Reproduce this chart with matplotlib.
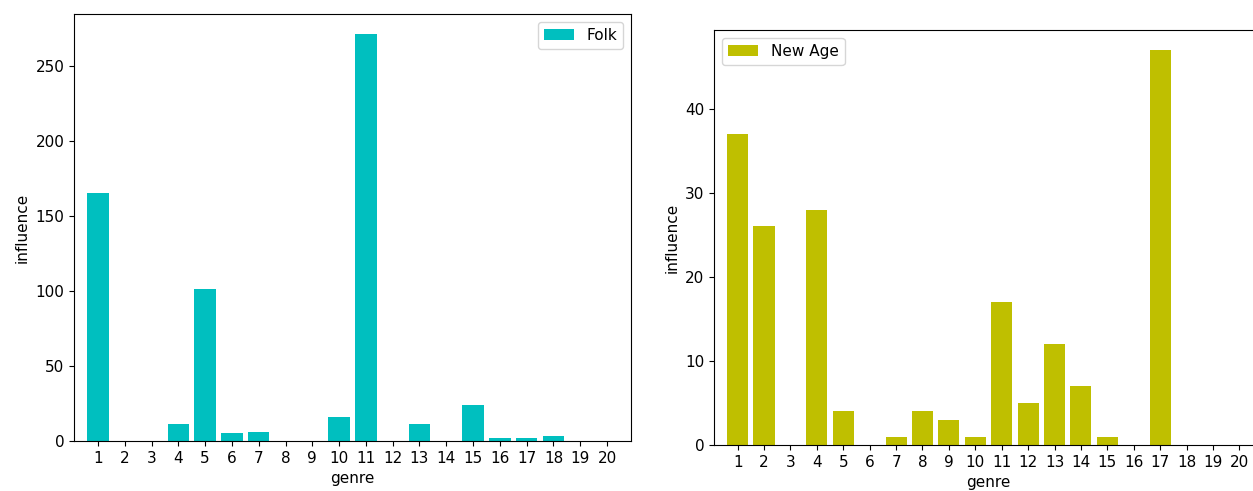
import numpy as np
import matplotlib
matplotlib.use("Agg")
import matplotlib.pyplot as plt

plt.rcParams['font.size'] = 11

# influence of each genre (1..20) on Folk and New Age artists
genres = list(range(1, 21))
folk = [165, 0, 0, 11, 101, 5, 6, 0, 0, 16, 271, 0, 11, 0, 24, 2, 2, 3, 0, 0]
new_age = [37, 26, 0, 28, 4, 0, 1, 4, 3, 1, 17, 5, 12, 7, 1, 0, 47, 0, 0, 0]

W, H = 1253, 491
fig = plt.figure(figsize=(W / 100, H / 100), dpi=100)

def box(x0, x1, y_top, y_bot):
    return [x0 / W, (H - y_bot) / H, (x1 - x0) / W, (y_bot - y_top) / H]

ax1 = fig.add_axes(box(74, 631, 14, 441))
ax1.bar(genres, folk, color='c', label='Folk')
ax1.margins(x=0.025)
ax1.set_xticks(genres)
ax1.set_xlabel('genre')
ax1.set_ylabel('influence')
ax1.legend(loc='upper right')

ax2 = fig.add_axes(box(714, 1263, 30, 445))
ax2.bar(genres, new_age, color='y', label='New Age')
ax2.margins(x=0.025)
ax2.set_xticks(genres)
ax2.set_xlabel('genre')
ax2.set_ylabel('influence')
ax2.legend(loc='upper left')

fig.savefig('out.png', dpi=100)
